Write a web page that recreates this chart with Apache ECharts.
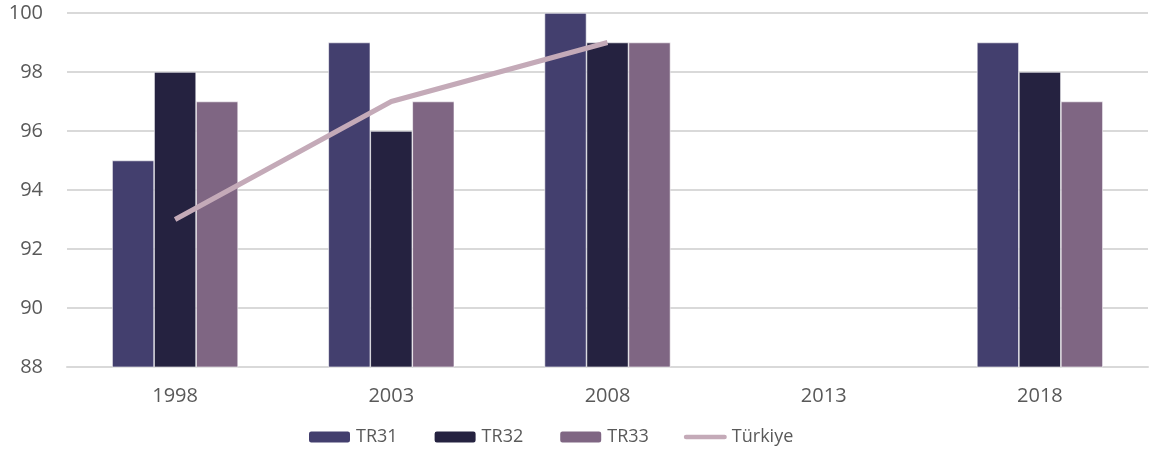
<!DOCTYPE html>
<html>
<head>
<meta charset="utf-8">
<script src="https://cdn.jsdelivr.net/npm/echarts@6/dist/echarts.min.js"></script>
<style>
  html, body { margin: 0; padding: 0; background: #fff; }
  #chart { width: 1150px; height: 452px; }
</style>
</head>
<body>
<div id="chart"></div>
<script>
const years = ["1998", "2003", "2008", "2013", "2018"];
const tr31 = [95, 99, 100, null, 99];
const tr32 = [98, 96, 99, null, 98];
const tr33 = [97, 97, 99, null, 97];
const turkiye = [93, 97, 99, null, null];

const chart = echarts.init(document.getElementById("chart"));
const labelFont = { color: "#595959", fontSize: 20, fontFamily: "Open Sans" };

function barSeries(name, data, color) {
  return {
    name: name,
    type: "bar",
    data: data,
    barWidth: 42,
    barGap: "0%",
    itemStyle: { color: color, borderColor: "#ffffff", borderWidth: 0.6 },
  };
}

chart.setOption({
  animation: false,
  backgroundColor: "#fff",
  grid: { left: 67, right: 2, top: 13, bottom: 85 },
  legend: {
    top: 423,
    left: 302,
    itemWidth: 43,
    itemHeight: 13,
    itemGap: 35,
    textStyle: { color: "#595959", fontSize: 18, fontFamily: "Open Sans" },
    data: [
      "TR31",
      "TR32",
      "TR33",
      {
        name: "Türkiye",
        icon: "path://M2.5,0 L45.5,0 A2.5,2.5 0 0 1 45.5,5 L2.5,5 A2.5,2.5 0 0 1 2.5,0 Z",
      },
    ],
  },
  xAxis: {
    type: "category",
    data: years,
    axisTick: { show: false },
    axisLine: { lineStyle: { color: "#D9D9D9", width: 2 } },
    axisLabel: Object.assign({ margin: 19 }, labelFont),
  },
  yAxis: {
    type: "value",
    min: 88,
    max: 100,
    interval: 2,
    axisLine: { show: false },
    axisTick: { show: false },
    axisLabel: Object.assign({ margin: 24 }, labelFont),
    splitLine: { lineStyle: { color: "#D9D9D9", width: 2 } },
  },
  series: [
    barSeries("TR31", tr31, "#433F6E"),
    barSeries("TR32", tr32, "#252240"),
    barSeries("TR33", tr33, "#7F6683"),
    {
      name: "Türkiye",
      type: "line",
      data: turkiye,
      symbol: "none",
      connectNulls: false,
      itemStyle: { color: "#C4AAB8" },
      lineStyle: { color: "#C4AAB8", width: 5 },
      z: 5,
    },
  ],
});
</script>
</body>
</html>
